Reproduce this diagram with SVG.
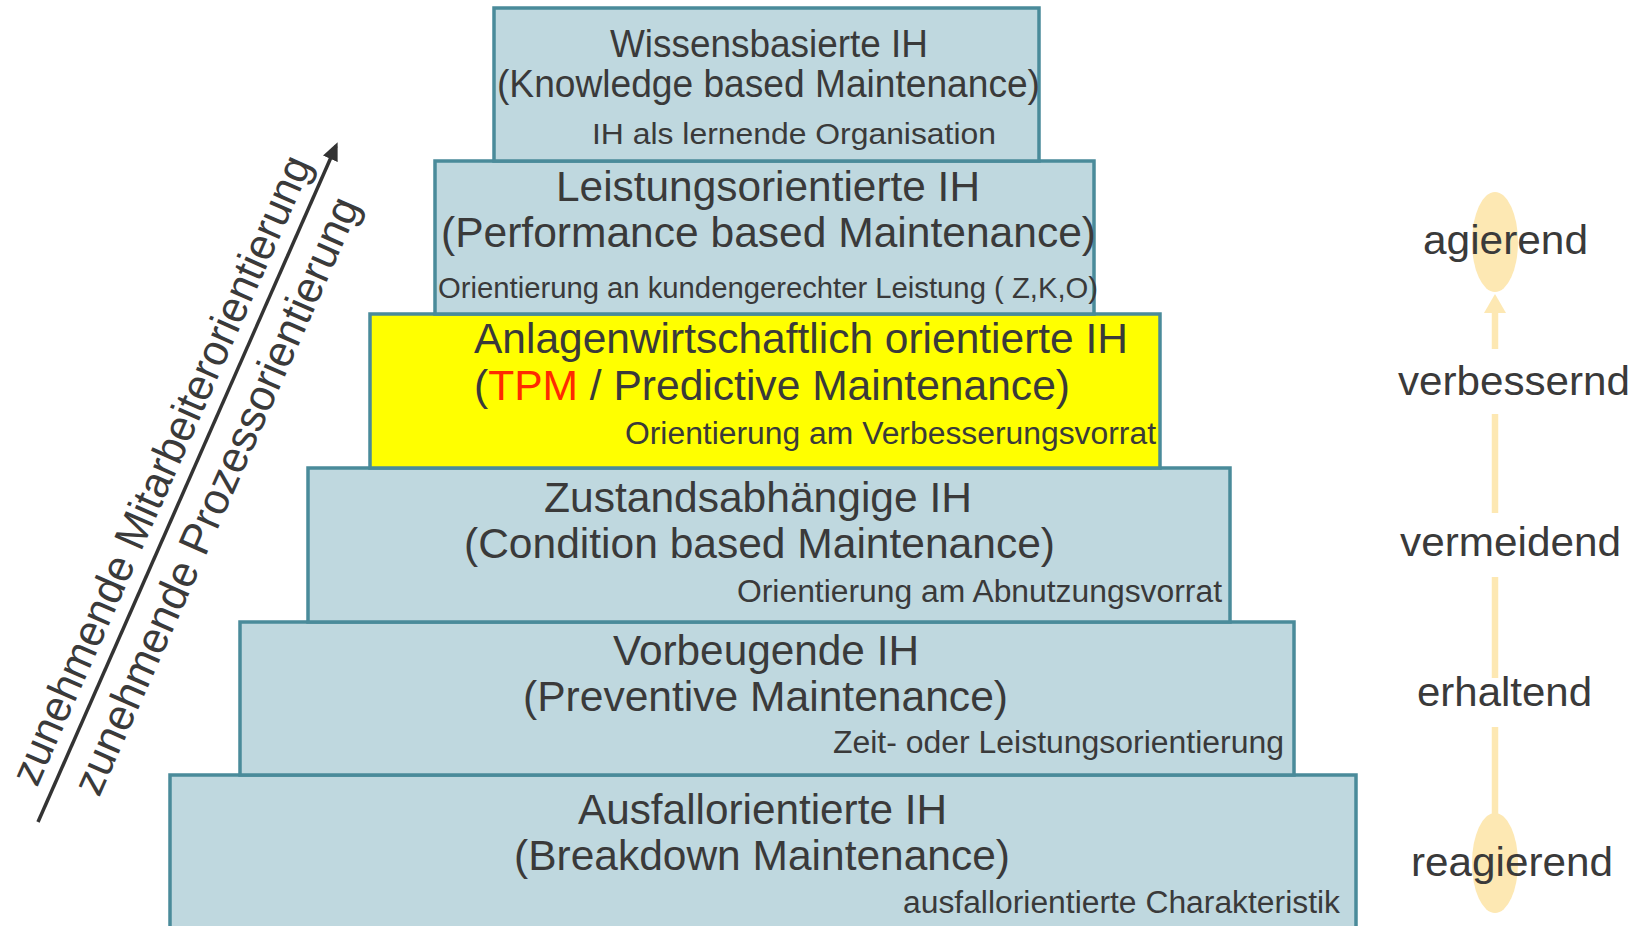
<svg xmlns="http://www.w3.org/2000/svg" width="1635" height="926" viewBox="0 0 1635 926">
<style>
text{font-family:"Liberation Sans",Arial,sans-serif;fill:#3a3a3a}
.box{fill:#bfd8df;stroke:#4a8b9a;stroke-width:3.5}
.yel{fill:#ffff00;stroke:#4a8b9a;stroke-width:3.5}
.t{font-size:42px}
.s{font-size:31px}
.r{font-size:41px}
.red{fill:#ff2a00}
.oc{stroke:#fde8b3;stroke-width:6.5;fill:none}
</style>
<defs>
<marker id="ah" markerWidth="18" markerHeight="16" refX="14" refY="8" orient="auto" markerUnits="userSpaceOnUse" viewBox="0 0 18 16">
<path d="M0,0 L18,8 L0,16 z" fill="#333"/>
</marker>
</defs>
<rect width="1635" height="926" fill="#fff"/>

<g id="n6"><rect class="box" x="170" y="775" width="1186" height="160"/>
<text class="t" x="578" y="824" textLength="369" lengthAdjust="spacingAndGlyphs">Ausfallorientierte IH</text>
<text class="t" x="514" y="870" textLength="496" lengthAdjust="spacingAndGlyphs">(Breakdown Maintenance)</text>
<text class="s" x="903" y="913" textLength="437" lengthAdjust="spacingAndGlyphs">ausfallorientierte Charakteristik</text></g>

<g id="n5"><rect class="box" x="240" y="622" width="1054" height="153"/>
<text class="t" x="613" y="665" textLength="306" lengthAdjust="spacingAndGlyphs">Vorbeugende IH</text>
<text class="t" x="523" y="711" textLength="485" lengthAdjust="spacingAndGlyphs">(Preventive Maintenance)</text>
<text class="s" x="833" y="753" textLength="451" lengthAdjust="spacingAndGlyphs">Zeit- oder Leistungsorientierung</text></g>

<g id="n4"><rect class="box" x="308" y="468" width="922" height="154"/>
<text class="t" x="544" y="512" textLength="428" lengthAdjust="spacingAndGlyphs">Zustandsabhängige IH</text>
<text class="t" x="464" y="558" textLength="591" lengthAdjust="spacingAndGlyphs">(Condition based Maintenance)</text>
<text class="s" x="737" y="602" textLength="485" lengthAdjust="spacingAndGlyphs">Orientierung am Abnutzungsvorrat</text></g>

<g id="n3"><rect class="yel" x="370" y="314" width="790" height="154"/>
<text class="t" x="474" y="353" textLength="654" lengthAdjust="spacingAndGlyphs">Anlagenwirtschaftlich orientierte IH</text>
<text class="t" x="474" y="400" textLength="596" lengthAdjust="spacingAndGlyphs">(<tspan class="red">TPM</tspan> / Predictive Maintenance)</text>
<text class="s" x="625" y="444" textLength="531" lengthAdjust="spacingAndGlyphs">Orientierung am Verbesserungsvorrat</text></g>

<g id="n2"><rect class="box" x="435" y="161" width="659" height="153"/>
<text class="t" x="556" y="201" textLength="424" lengthAdjust="spacingAndGlyphs">Leistungsorientierte IH</text>
<text class="t" x="441" y="247" textLength="655" lengthAdjust="spacingAndGlyphs">(Performance based Maintenance)</text>
<text style="font-size:29px" x="438" y="298" textLength="660" lengthAdjust="spacingAndGlyphs">Orientierung an kundengerechter Leistung ( Z,K,O)</text></g>

<g id="n1"><rect class="box" x="494" y="8" width="545" height="153"/>
<text style="font-size:38px" x="610" y="57" textLength="318" lengthAdjust="spacingAndGlyphs">Wissensbasierte IH</text>
<text style="font-size:38px" x="497" y="97" textLength="543" lengthAdjust="spacingAndGlyphs">(Knowledge based Maintenance)</text>
<text style="font-size:30px" x="592" y="144" textLength="404" lengthAdjust="spacingAndGlyphs">IH als lernende Organisation</text></g>

<g id="left-axis">
<line x1="38" y1="822" x2="336" y2="146" stroke="#333" stroke-width="3.5" marker-end="url(#ah)"/>
<text style="font-size:44px" transform="translate(37,788) rotate(-66.2)" textLength="682" lengthAdjust="spacingAndGlyphs">zunehmende Mitarbeiterorientierung</text>
<text style="font-size:44px" transform="translate(99,798) rotate(-66.2)" textLength="648" lengthAdjust="spacingAndGlyphs">zunehmende Prozessorientierung</text>
</g>

<g id="right-scale">
<ellipse cx="1495" cy="242" rx="23" ry="50" fill="#fde8b3"/>
<ellipse cx="1495" cy="863" rx="23" ry="50" fill="#fde8b3"/>
<g id="connectors">
<line class="oc" x1="1495" y1="311" x2="1495" y2="349"/>
<path d="M1484,313 L1495,294 L1506,313 z" fill="#fde8b3"/>
<line class="oc" x1="1495" y1="414" x2="1495" y2="513"/>
<line class="oc" x1="1495" y1="577" x2="1495" y2="678"/>
<line class="oc" x1="1495" y1="727" x2="1495" y2="815"/>
</g>
<text class="r" x="1423" y="254" textLength="165" lengthAdjust="spacingAndGlyphs">agierend</text>
<text class="r" x="1398" y="395" textLength="232" lengthAdjust="spacingAndGlyphs">verbessernd</text>
<text class="r" x="1400" y="556" textLength="221" lengthAdjust="spacingAndGlyphs">vermeidend</text>
<text class="r" x="1417" y="706" textLength="175" lengthAdjust="spacingAndGlyphs">erhaltend</text>
<text class="r" x="1411" y="876" textLength="202" lengthAdjust="spacingAndGlyphs">reagierend</text>
</g>
</svg>
